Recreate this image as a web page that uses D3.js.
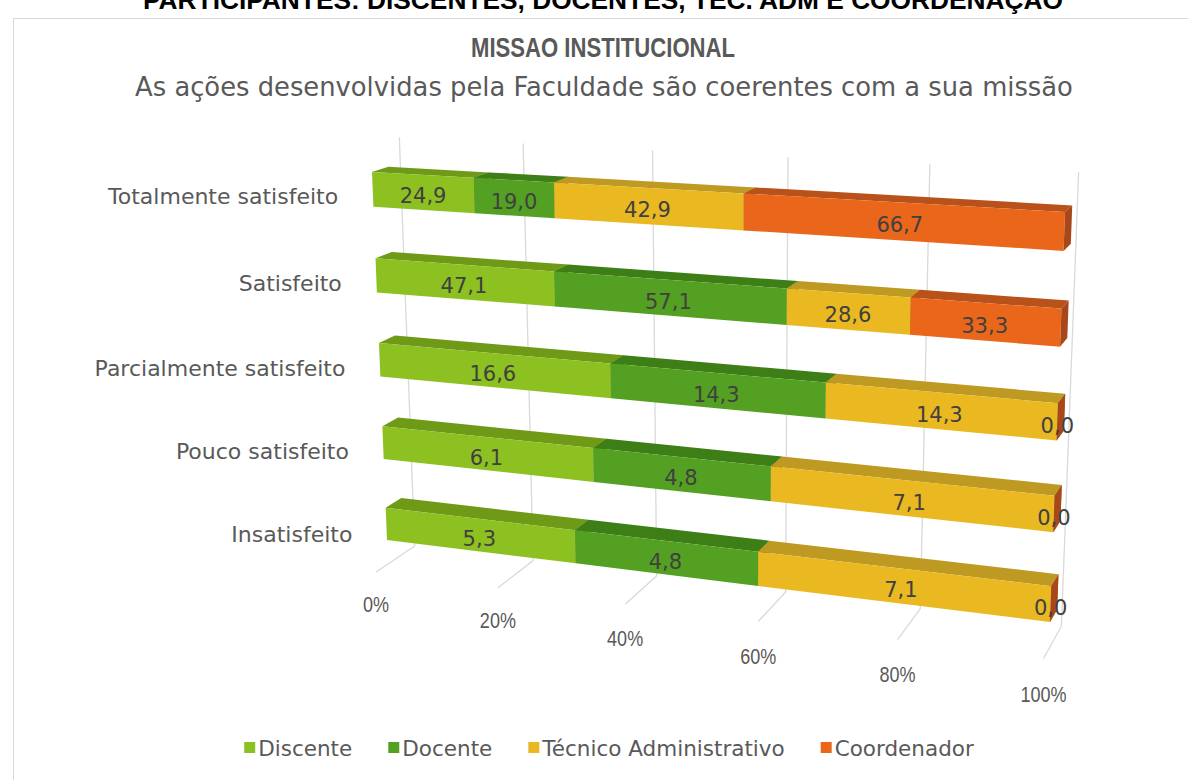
<!DOCTYPE html>
<html><head><meta charset="utf-8">
<script src="https://cdn.jsdelivr.net/npm/d3@7"></script>
<style>body{margin:0;background:#fff;overflow:hidden}text{font-family:"DejaVu Sans",sans-serif}</style>
</head><body><svg id="c" width="1188" height="780"></svg>
<script>
// ---------- data ----------
const categories = ["Totalmente satisfeito","Satisfeito","Parcialmente satisfeito","Pouco satisfeito","Insatisfeito"];
const seriesNames = ["Discente","Docente","Técnico Administrativo","Coordenador"];
const discente    = [24.9, 47.1, 16.6, 6.1, 5.3];
const docente     = [19.0, 57.1, 14.3, 4.8, 4.8];
const tecnico     = [42.9, 28.6, 14.3, 7.1, 7.1];
const coordenador = [66.7, 33.3, 0.0, 0.0, 0.0];
const tickValues  = [0, 0.2, 0.4, 0.6, 0.8, 1];
const tickLabels  = ["0%","20%","40%","60%","80%","100%"];
const seriesValues = [discente, docente, tecnico, coordenador];

// ---------- styles ----------
const frontColor = ["#8DC021","#54A022","#EAB821","#E9661A"];
const topColor   = ["#6E9A18","#3E7E16","#BF9A22","#B8521A"];
const endColor   = ["#5C8414","#346B12","#A37E12","#A8481A"];
const gridColor = "#D9D9D9";
const textColor = "#595959";
const sansFont = '"Liberation Sans",Arial,sans-serif';

const svg = d3.select("#c");

// ---------- scales ----------
const x = d3.scaleLinear().domain([0, 1]).range([0, 1]);
const y = d3.scaleBand().domain(categories).range([1, 0]).paddingInner(0.6).paddingOuter(0.3);
const zFront = 0.3, zBack = 0.7;
const yTopBar = y(categories[0]) + y.bandwidth();
const yBottomBar = y(categories[categories.length - 1]);

// ---------- perspective projection (layout anchors) ----------
function solve(A, b) {
  const n = A.length, M = A.map((r, i) => [...r, b[i]]);
  for (let c = 0; c < n; c++) {
    let p = c;
    for (let r = c + 1; r < n; r++) if (Math.abs(M[r][c]) > Math.abs(M[p][c])) p = r;
    [M[c], M[p]] = [M[p], M[c]];
    for (let r = 0; r < n; r++) {
      if (r === c) continue;
      const f = M[r][c] / M[c][c];
      for (let k = c; k <= n; k++) M[r][k] -= f * M[c][k];
    }
  }
  return M.map((r, i) => r[n] / r[i]);
}
// plane of the bar fronts (Z = zFront): X,Y -> pixel
const frontAnchors = [
  {X:0, Y:yTopBar, px:[372,172]}, {X:1, Y:yTopBar, px:[1065,212]},
  {X:0, Y:yBottomBar, px:[387,540]}, {X:1, Y:yBottomBar, px:[1050,622]}
];
// floor corners: X,Z -> pixel
const floorAnchors = [
  {X:0, Z:0, px:[377,573]}, {X:0, Z:1, px:[415,546]},
  {X:1, Z:0, px:[1040,662]}, {X:1, Z:1, px:[1060,628]}
];
const A = [], B = [];
frontAnchors.forEach(({X, Y, px:[u, v]}) => {
  A.push([X, Y, 1, 0, 0, 0, -u*X, -u*Y]); B.push(u);
  A.push([0, 0, 0, X, Y, 1, -v*X, -v*Y]); B.push(v);
});
const h = solve(A, B);
const p1 = [h[0], h[3], h[6]], p2 = [h[1], h[4], h[7]], g3 = [h[2], h[5], 1];
const rows = [], rhs = [];
floorAnchors.forEach(({X, Z, px:[u, v]}) => {
  const q = [0,1,2].map(k => X*p1[k] + g3[k]);
  const dz = Z - zFront;
  rows.push([dz, 0, -u*dz]); rhs.push(u*q[2] - q[0]);
  rows.push([0, dz, -v*dz]); rhs.push(v*q[2] - q[1]);
});
const AtA = [0,1,2].map(i => [0,1,2].map(j => d3.sum(rows, r => r[i]*r[j])));
const Atb = [0,1,2].map(i => d3.sum(rows.map((r, k) => r[i]*rhs[k])));
const p3 = solve(AtA, Atb);
function proj(X, Y, Z) {
  const w = [0,1,2].map(k => X*p1[k] + Y*p2[k] + (Z - zFront)*p3[k] + g3[k]);
  return [w[0]/w[2], w[1]/w[2]];
}

// ---------- frame & titles ----------
svg.append("rect").attr("x", 13.5).attr("y", 18.5).attr("width", 1190).attr("height", 780)
  .attr("fill", "#fff").attr("stroke", gridColor);
svg.append("text").attr("x", 603).attr("y", 9).attr("text-anchor", "middle")
  .style("font-family", sansFont)
  .attr("font-size", 26.3).attr("font-weight", "bold").attr("fill", "#000")
  .text("PARTICIPANTES: DISCENTES, DOCENTES, TEC. ADM E COORDENAÇÃO");
svg.append("text").attr("transform", "translate(603,57) scale(0.79,1)")
  .attr("text-anchor", "middle")
  .style("font-family", sansFont)
  .attr("font-size", 28).attr("font-weight", "bold").attr("fill", textColor)
  .text("MISSAO INSTITUCIONAL");
svg.append("text").attr("x", 604).attr("y", 96).attr("text-anchor", "middle")
  .attr("font-size", 25.8).attr("fill", textColor)
  .text("As ações desenvolvidas pela Faculdade são coerentes com a sua missão");

// ---------- gridlines ----------
const line = d3.line();
const grid = svg.append("g").attr("stroke", gridColor).attr("stroke-width", 1.3).attr("fill", "none");
tickValues.forEach(t => {
  grid.append("path").attr("d", line([proj(x(t), 0, 1), proj(x(t), 1, 1)]));
  grid.append("path").attr("d", line([proj(x(t), 0, 0), proj(x(t), 0, 1)]));
});

// ---------- bars ----------
const table = categories.map((c, i) => {
  const o = {cat: c};
  seriesNames.forEach((s, k) => o[s] = seriesValues[k][i]);
  return o;
});
const stacked = d3.stack().keys(seriesNames).offset(d3.stackOffsetExpand)(table);
const poly = pts => "M" + pts.map(p => p.join(",")).join("L") + "Z";
const bars = svg.append("g");
const fmt = d3.formatLocale({decimal: ",", thousands: ".", grouping: [3], currency: ["", ""]}).format(".1f");
const labels = [];
table.forEach((row, i) => {
  const y0 = y(row.cat), y1 = y0 + y.bandwidth();
  stacked.forEach((layer, k) => {
    const [a, b] = layer[i];
    const xa = x(a), xb = x(b);
    bars.append("path").attr("fill", topColor[k])
      .attr("d", poly([proj(xa,y1,zFront), proj(xb,y1,zFront), proj(xb,y1,zBack), proj(xa,y1,zBack)]));
    bars.append("path").attr("fill", frontColor[k])
      .attr("d", poly([proj(xa,y0,zFront), proj(xb,y0,zFront), proj(xb,y1,zFront), proj(xa,y1,zFront)]));
    bars.append("path").attr("fill", endColor[k])
      .attr("d", poly([proj(xb,y0,zFront), proj(xb,y1,zFront), proj(xb,y1,zBack), proj(xb,y0,zBack)]));
    labels.push({pos: proj((xa+xb)/2, (y0+y1)/2, zFront), text: fmt(row[layer.key])});
  });
});
svg.append("g").selectAll("text").data(labels).join("text")
  .attr("x", d => d.pos[0]).attr("y", d => d.pos[1] + 4)
  .attr("text-anchor", "middle").attr("dominant-baseline", "central")
  .attr("font-size", 21).attr("fill", "#404040").text(d => d.text);

// ---------- category labels ----------
svg.append("g").selectAll("text").data(categories).join("text")
  .attr("x", c => proj(0, y(c) + y.bandwidth()/2, 0)[0] - 22)
  .attr("y", c => proj(0, y(c) + y.bandwidth()/2, 0)[1] + 2.5)
  .attr("text-anchor", "end").attr("dominant-baseline", "central")
  .attr("font-size", 22).attr("fill", textColor).text(c => c);

// ---------- value tick labels ----------
svg.append("g").selectAll("text").data(tickValues).join("text")
  .attr("transform", t => {
    const [px, py] = proj(x(t), 0, 0);
    return `translate(${px},${py + 32 + 4 * t}) scale(0.82,1)`;
  })
  .attr("text-anchor", "middle").attr("dominant-baseline", "central")
  .style("font-family", sansFont)
  .attr("font-size", 22).attr("fill", textColor).text((t, i) => tickLabels[i]);

// ---------- legend ----------
const lg = svg.append("g");
const items = seriesNames.map((s, k) => {
  const g = lg.append("g");
  g.append("rect").attr("width", 11).attr("height", 11).attr("y", -6).attr("fill", frontColor[k]);
  const t = g.append("text").attr("x", 14).attr("dominant-baseline", "central")
    .attr("font-size", 21.5).attr("fill", textColor).text(s);
  return {g, w: 14 + t.node().getComputedTextLength()};
});
const gap = 36;
const total = d3.sum(items, d => d.w) + gap * (items.length - 1);
let cx = 609 - total / 2;
items.forEach(d => { d.g.attr("transform", `translate(${cx},748)`); cx += d.w + gap; });
</script></body></html>
